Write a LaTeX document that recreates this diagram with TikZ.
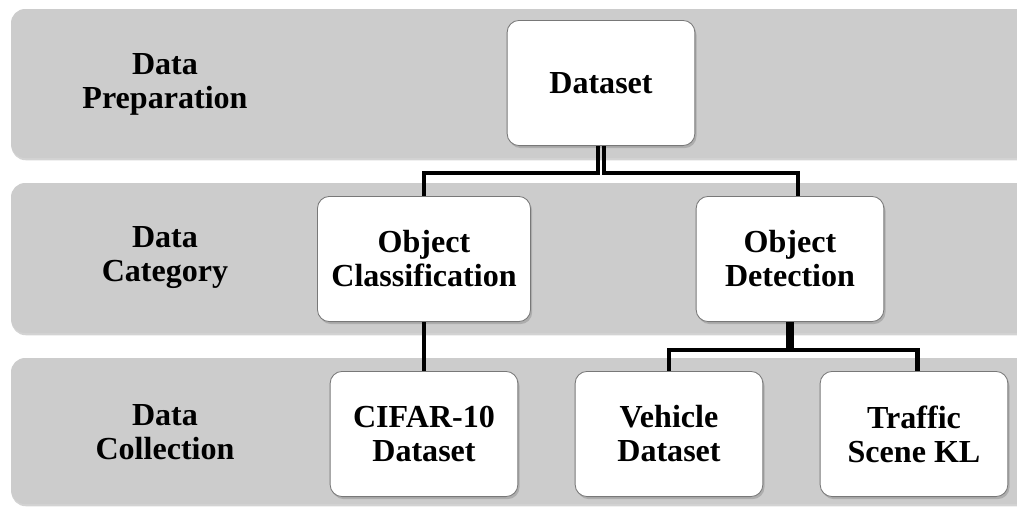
\documentclass[tikz,border=0pt]{standalone}
\usepackage{fontspec}
\setmainfont{Liberation Serif}
\usetikzlibrary{shadows}

\definecolor{bandgray}{RGB}{204,204,204}
\definecolor{boxline}{RGB}{120,120,120}

\tikzset{
	band/.style={fill=bandgray, rounded corners=10pt,
		drop shadow={shadow xshift=0.4pt, shadow yshift=-1.6pt, opacity=0.35}},
	lbl/.style={align=center, font=\fontsize{22.8}{24.2}\selectfont\bfseries},
	box/.style={draw=boxline, line width=0.6pt, fill=white, rounded corners=8.5pt,
		minimum width=133.5pt, minimum height=89pt, inner sep=0pt,
		align=center, font=\fontsize{22.8}{24.2}\selectfont\bfseries,
		drop shadow={shadow xshift=1.2pt, shadow yshift=-1.8pt, opacity=0.4}},
	link/.style={line width=2.8pt}
}

\begin{document}
\begin{tikzpicture}[x=0.025cm, y=-0.025cm]
	\useasboundingbox (0,0) rectangle (1017,506);
	\clip (0,0) rectangle (1017,506);

	% level bands
	\foreach \ytop/\ybot in {9/158, 183/333, 358/504} {
		\path[band] (11,\ytop) rectangle (1045,\ybot);
	}
	\node[lbl] (prep) at (165,84) {Data\\Preparation};
	\node[lbl] (cat) at (165,258) {Data\\Category};
	\node[lbl] (coll) at (165,432) {Data\\Collection};

	% tree boxes
	\node[box] (ds) at (601,83) {Dataset};
	\node[box, minimum width=151.5pt] (oc) at (424,259) {Object\\Classification};
	\node[box] (od) at (790,259) {Object\\Detection};
	\node[box] (cifar) at (424,434) {CIFAR-10\\Dataset};
	\node[box] (veh) at (669,434) {Vehicle\\Dataset};
	\node[box] (tskl) at (914,434) {Traffic\\Scene KL};

	% connectors
	\draw[link, line width=2.6pt] ([xshift=-2.2pt]ds.south) -- ++(0,27) -| (oc.north);
	\draw[link, line width=2.6pt] ([xshift=2.2pt]ds.south) -- ++(0,27) -| ([xshift=5.5pt]od.north);
	\draw[link] (oc.south) -- (cifar.north);
	\draw[link, line width=3.2pt] ([xshift=-1.4pt]od.south) -- ++(0,28) -| (veh.north);
	\draw[link, line width=3.2pt] ([xshift=1.4pt]od.south) -- ++(0,28) -| ([xshift=2.5pt]tskl.north);
\end{tikzpicture}
\end{document}
